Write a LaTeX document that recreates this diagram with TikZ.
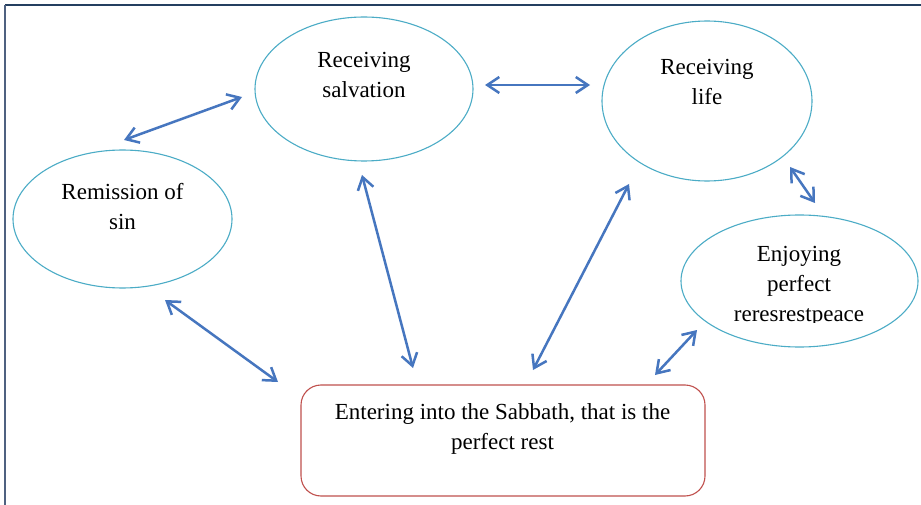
\documentclass[tikz,border=0pt]{standalone}
\usepackage{fontspec}
\setmainfont{Liberation Serif}
\usetikzlibrary{shapes.geometric,arrows.meta}
\definecolor{ellcol}{HTML}{4BACC6}
\definecolor{boxcol}{HTML}{C0504D}
\definecolor{arrcol}{HTML}{4676BF}
\definecolor{framecol}{HTML}{243F60}
\definecolor{framecolb}{HTML}{4F6180}
\tikzset{
  oval/.style={ellipse, draw=ellcol, line width=1.1pt, inner sep=0pt},
  goal/.style={draw=boxcol, line width=1.1pt, rounded corners=20pt, inner sep=0pt},
  txt/.style={font=\fontsize{23}{30}\selectfont, align=center, anchor=base, inner sep=0pt},
  link/.style={draw=arrcol, line width=2.5pt, {Straight Barb[length=12pt,width=16pt]}-{Straight Barb[length=12pt,width=16pt]}}
}
\begin{document}
\begin{tikzpicture}[x=1pt,y=-1pt]
\useasboundingbox (0,0) rectangle (921,505);
\fill[white] (0,0) rectangle (921,505);
% frame
\draw[framecol, line width=1.6pt] (5,5) -- (921,5);
\draw[framecolb, line width=1.4pt] (5,5) -- (5,505);
% shapes
\node[oval, minimum width=218pt, minimum height=144pt] (salv) at (364,89) {};
\node[oval, minimum width=210pt, minimum height=160pt] (life) at (707,101) {};
\node[oval, minimum width=219pt, minimum height=138pt] (sin) at (122.5,219) {};
\node[oval, minimum width=237pt, minimum height=132pt] (peace) at (799.5,281) {};
\node[goal, minimum width=404pt, minimum height=111pt] (rest) at (503,440.5) {};
% texts (base anchor = baseline of the last line)
\node[txt] (tsalv) at (364,97.5) {Receiving\\salvation};
\node[txt] (tlife) at (707,104.5) {Receiving\\life};
\node[txt] (tsin) at (122.5,229.5) {Remission of\\sin};
\begin{scope}
\clip (682,230) rectangle (916,322);
\node[txt] (tpeace) at (799,321) {Enjoying\\perfect\\reresrestpeace};
\end{scope}
\node[txt] (trest) at (502.5,449.5) {Entering into the Sabbath, that is the\\perfect rest};
% connector ends
\coordinate (a1) at (124,140); \coordinate (b1) at (242,97);
\coordinate (a2) at (485,85);  \coordinate (b2) at (590,85);
\coordinate (a3) at (362,175); \coordinate (b3) at (413,368);
\coordinate (a4) at (165,300); \coordinate (b4) at (278,382);
\coordinate (a5) at (533,370); \coordinate (b5) at (629,184);
\coordinate (a6) at (790,167); \coordinate (b6) at (815,203);
\coordinate (a7) at (655,375); \coordinate (b7) at (697,330);
\foreach \i in {1,...,7} { \draw[link] (a\i) -- (b\i); }
\end{tikzpicture}
\end{document}
